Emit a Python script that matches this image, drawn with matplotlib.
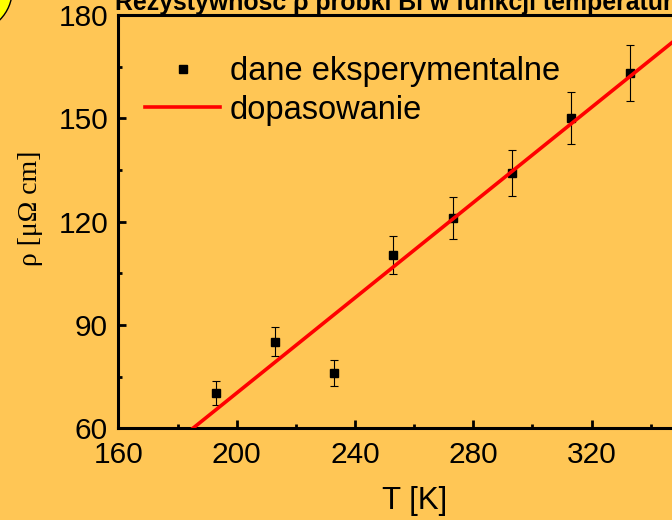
import numpy as np
import matplotlib
matplotlib.use("Agg")
import matplotlib.pyplot as plt
from matplotlib.lines import Line2D
from matplotlib.patches import Circle
from matplotlib.ticker import MultipleLocator

plt.rcParams['font.family'] = ['Liberation Sans', 'DejaVu Sans']

# pomiary rezystywnosci probki Bi
T = [193, 213, 233, 253, 273, 293, 313, 333]                       # [K]
rho = [70.2, 85.2, 76.2, 110.3, 121.2, 134.2, 150.2, 163.2]        # [uOhm cm]
rho_err = [3.5, 4.3, 3.8, 5.5, 6.1, 6.7, 7.5, 8.2]

bg = '#FFC655'

fig = plt.figure(figsize=(6.72, 5.20), dpi=100, facecolor=bg)
ax = fig.add_axes([0.1763, 0.176, 0.880, 0.795], facecolor=bg)

# zolte kolko w rogu slajdu
fig.patches.append(Circle((-0.30, 5.30), 0.422, transform=fig.dpi_scale_trans,
                          facecolor='#FFFF00', edgecolor='black', linewidth=1.0))

# dopasowanie liniowe
b, a = np.polyfit(T, rho, 1)
tt = np.array([160, 360])
ax.plot(tt, a + b * tt, color='#FF0000', lw=2.6, zorder=3)

ax.errorbar(T, rho, yerr=rho_err, fmt='s', color='black', ms=5.5,
            ecolor='black', elinewidth=0.8, capsize=2.9, capthick=0.8, zorder=2)

ax.set_xlim(160, 360)
ax.set_ylim(60, 180)
ax.xaxis.set_major_locator(MultipleLocator(40))
ax.xaxis.set_minor_locator(MultipleLocator(20))
ax.yaxis.set_major_locator(MultipleLocator(30))
ax.yaxis.set_minor_locator(MultipleLocator(15))
ax.tick_params(which='both', direction='in', width=2.0, colors='black')
ax.tick_params(which='major', length=5.5, labelsize=21.5)
ax.tick_params(axis='x', which='major', pad=9.0)
ax.tick_params(axis='y', which='major', pad=7.5)
ax.tick_params(which='minor', length=3.0)
for s in ax.spines.values():
    s.set_linewidth(2.2)

ax.set_xlabel('T [K]', fontsize=22.5)
ax.xaxis.set_label_coords(0.5, -0.140)
ax.set_ylabel('ρ [μΩ cm]', fontsize=20, family=['Liberation Serif', 'DejaVu Serif'])
ax.yaxis.set_label_coords(-0.128, 0.533)

ax.set_title('Rezystywność ρ próbki Bi w funkcji temperatury', x=0.477,
             fontsize=17.9, fontweight='bold', pad=3.4)

handles = [Line2D([], [], marker='s', ls='none', color='black', ms=5.5),
           Line2D([], [], color='#FF0000', lw=2.6)]
labels = ['dane eksperymentalne', 'dopasowanie']
ax.legend(handles, labels, loc='upper left', bbox_to_anchor=(145 / 672, 1 - 56 / 520),
          bbox_transform=fig.transFigure, frameon=False, fontsize=23.5,
          handlelength=2.3, handletextpad=0.3, labelspacing=0.24,
          borderpad=0, borderaxespad=0)

fig.savefig('out.png', dpi=100, facecolor=bg)
